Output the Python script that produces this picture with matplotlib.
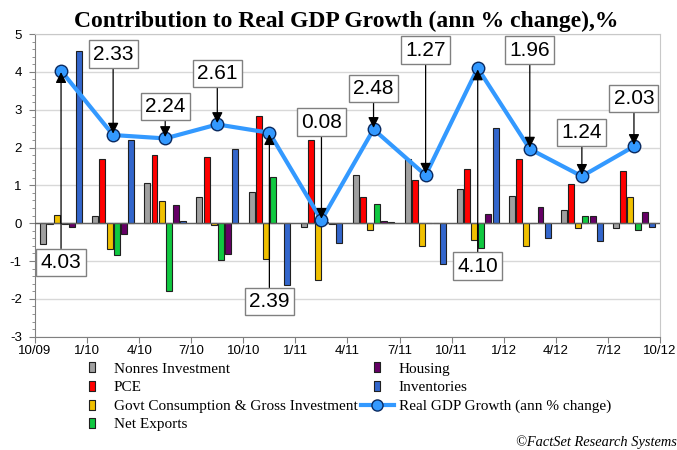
import numpy as np
import matplotlib
matplotlib.use('Agg')
import matplotlib.pyplot as plt
from matplotlib.lines import Line2D

plt.rcParams['axes.unicode_minus'] = False

# quarters Q4 2009 .. Q3 2012
quarters = ['Q4 09', 'Q1 10', 'Q2 10', 'Q3 10', 'Q4 10', 'Q1 11',
            'Q2 11', 'Q3 11', 'Q4 11', 'Q1 12', 'Q2 12', 'Q3 12']
tick_labels = ['10/09', '1/10', '4/10', '7/10', '10/10', '1/11', '4/11',
               '7/11', '10/11', '1/12', '4/12', '7/12', '10/12']

nonres = [-0.56, 0.18, 1.06, 0.69, 0.82, -0.10, 1.27, 1.70, 0.91, 0.73, 0.34, -0.13]
pce = [-0.02, 1.70, 1.80, 1.74, 2.82, 2.21, 0.69, 1.15, 1.42, 1.70, 1.04, 1.39]
govt = [0.21, -0.68, 0.58, -0.04, -0.95, -1.49, -0.18, -0.60, -0.44, -0.60, -0.13, 0.69]
net_exports = [-0.03, -0.84, -1.80, -0.96, 1.21, 0.02, 0.51, 0.01, -0.66, 0.01, 0.20, -0.18]
housing = [-0.10, -0.29, 0.49, -0.82, 0.01, -0.02, 0.05, 0.01, 0.24, 0.42, 0.18, 0.29]
inventories = [4.56, 2.21, 0.06, 1.97, -1.64, -0.53, 0.03, -1.09, 2.52, -0.40, -0.46, -0.11]
gdp = [4.03, 2.33, 2.24, 2.61, 2.39, 0.08, 2.48, 1.27, 4.10, 1.96, 1.24, 2.03]

series = [
    ('Nonres Investment', nonres, '#a0a0a0'),
    ('PCE', pce, '#ff0000'),
    ('Govt Consumption & Gross Investment', govt, '#f0c000'),
    ('Net Exports', net_exports, '#10c840'),
    ('Housing', housing, '#660066'),
    ('Inventories', inventories, '#3366cc'),
]

# label box offsets from each point, in pixels (positive = above)
label_dy = [-192, 81, 32, 51, -169, 98, 41, 125, -198, 99, 44, 48]

fig = plt.figure(figsize=(6.77, 4.5), dpi=100)
ax = fig.add_axes([35/677, 1-336.7/450, 625/677, (336.7-34)/450])

x = np.arange(len(quarters)) + 0.5
step = 0.137
width = 0.115
bar_marker = [(-0.3, -0.5), (0.3, -0.5), (0.3, 0.5), (-0.3, 0.5), (-0.3, -0.5)]
handles = []
for k, (name, vals, col) in enumerate(series):
    ax.bar(x + (k - 2.5) * step, vals, width=width, color=col,
           edgecolor='#202020', linewidth=0.8, zorder=3)
    handles.append(Line2D([], [], ls='none', marker=bar_marker, ms=7,
                          mfc=col, mec='#202020', mew=0.8, label=name))

ax.plot(x, gdp, color='#3399ff', lw=3, marker='o', ms=9, mfc='#3399ff',
        mec='#0a2a60', mew=1.0, zorder=5)
gdp_handle = Line2D([], [], color='#3399ff', lw=3, marker='o', ms=8,
                    mfc='#3399ff', mec='#0a2a60', mew=1.0,
                    label='Real GDP Growth (ann % change)')

for xi, v, dy in zip(x, gdp, label_dy):
    ax.annotate(f'{v:.2f}', xy=(xi, v), xytext=(0, dy), textcoords='offset pixels',
                ha='center', va='center', fontsize=15, family='Liberation Sans',
                bbox=dict(boxstyle='square,pad=0.2', fc='white', ec='#808080', lw=1),
                arrowprops=dict(arrowstyle='-|>', color='black', lw=0.9,
                                mutation_scale=16, shrinkA=0, shrinkB=1),
                zorder=6)

ax.axhline(0, color='#606060', lw=1, zorder=4)
ax.set_xlim(0, 12)
ax.set_ylim(-3, 5)
ax.set_xticks(np.arange(13))
ax.set_xticklabels(tick_labels, family='Liberation Sans', fontsize=9.5)
ax.set_yticks(np.arange(-3, 6))
ax.set_yticklabels([str(v) for v in range(-3, 6)], family='Liberation Sans', fontsize=9.5)
ax.set_yticks(np.arange(-3, 5.01, 0.2), minor=True)
ax.tick_params(axis='y', which='major', length=4, color='#808080', pad=5.5)
ax.tick_params(axis='y', which='minor', length=2, color='#808080')
ax.tick_params(axis='x', length=4, color='#808080', pad=2)
ax.grid(axis='y', color='#d8d8d8', lw=1, zorder=0)
for s in ['left', 'bottom']:
    ax.spines[s].set_color('#808080')
for s in ['top', 'right']:
    ax.spines[s].set_color('#c8c8c8')

fig.text(346/677, 1 - 27/450, 'Contribution to Real GDP Growth (ann % change),%',
         ha='center', va='baseline', fontsize=17, fontweight='bold', family='Liberation Serif')

fig.legend(handles=handles[:4] + [handles[4], handles[5], gdp_handle], ncol=2,
           loc='upper left', bbox_to_anchor=(76/677, 1 - 362/450), frameon=False,
           prop={'family': 'Liberation Serif', 'size': 11}, handlelength=2.15,
           handletextpad=0.33, columnspacing=0.2, labelspacing=0.32, borderpad=0,
           borderaxespad=0)

fig.text(1.0, 1 - 442/450, '\u00a9FactSet Research Systems', ha='right', va='center',
         fontsize=10.4, style='italic', family='Liberation Serif')

fig.savefig('out.png', dpi=100)
